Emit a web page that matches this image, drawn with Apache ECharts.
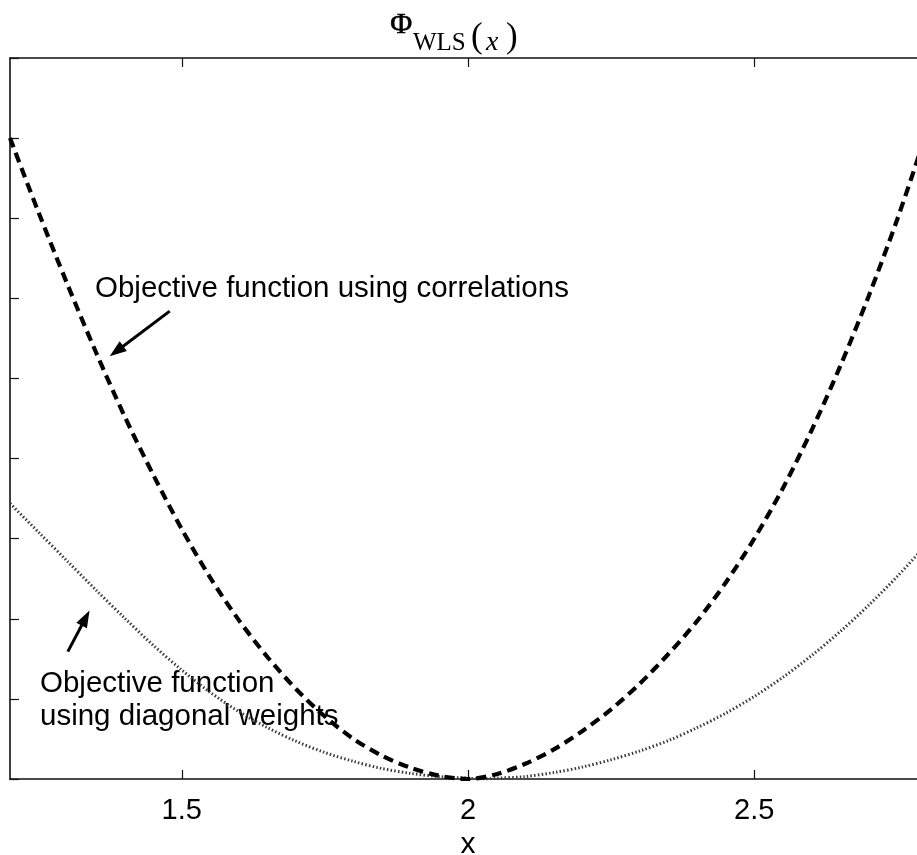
<!DOCTYPE html>
<html>
<head>
<meta charset="utf-8">
<title>Phi WLS objective functions</title>
<script src="https://cdn.jsdelivr.net/npm/echarts@6/dist/echarts.min.js"></script>
<style>
  html, body { margin: 0; padding: 0; background: #fff; }
  #chart { width: 917px; height: 855px; }
</style>
</head>
<body>
<div id="chart"></div>
<script>
// Objective function built with the full correlation weighting (dashed curve)
const corrX = [1.20, 1.25, 1.30, 1.35, 1.40, 1.45, 1.50, 1.55, 1.60, 1.65, 1.70, 1.75, 1.80, 1.85, 1.90, 1.95,
               2.00, 2.05, 2.10, 2.15, 2.20, 2.25, 2.30, 2.35, 2.40, 2.45, 2.50, 2.55, 2.60, 2.65, 2.70,
               2.75, 2.80];
const corrY = [8.00, 7.07, 6.18, 5.33, 4.53, 3.80, 3.12, 2.51, 1.98, 1.52, 1.12, 0.78, 0.50, 0.29, 0.14, 0.04,
               0.00, 0.06, 0.19, 0.37, 0.60, 0.87, 1.19, 1.56, 1.97, 2.45, 3.00, 3.63, 4.35, 5.15, 6.03,
               6.99, 8.05];

// Objective function built with diagonal weights only (dotted curve)
const diagX = [1.20, 1.25, 1.30, 1.35, 1.40, 1.45, 1.50, 1.55, 1.60, 1.65, 1.70, 1.75, 1.80, 1.85, 1.90, 1.95,
               2.00, 2.03, 2.05, 2.10, 2.15, 2.20, 2.25, 2.30, 2.35, 2.40, 2.45, 2.50, 2.55, 2.60, 2.65,
               2.70, 2.75, 2.80];
const diagY = [3.44, 3.08, 2.72, 2.36, 2.01, 1.67, 1.36, 1.08, 0.84, 0.64, 0.47, 0.33, 0.22, 0.13, 0.07, 0.03,
               0.01, 0.00, 0.01, 0.03, 0.08, 0.15, 0.24, 0.35, 0.48, 0.64, 0.82, 1.03, 1.27, 1.54, 1.84,
               2.17, 2.53, 2.92];

// Labelled x ticks and the unlabelled y tick range
const xTicks = [1.5, 2, 2.5];
const xRange = [1.2, 2.8];
const yRange = [0, 9];

// Annotation texts and the arrows pointing at each curve (data coordinates)
const corrNote = 'Objective function using correlations';
const diagNote = 'Objective function\nusing diagonal weights';
const corrArrow = [[1.479, 5.84], [1.386, 5.34]];
const diagArrow = [[1.301, 1.59], [1.332, 2.01]];

const pairs = (xs, ys) => xs.map((x, i) => [x, ys[i]]);

const sansFont = '"Liberation Sans", Arial, Helvetica, sans-serif';
const serifFont = '"Liberation Serif", "DejaVu Serif", serif';
const frameColor = '#111';

function boxAxis(extra) {
  return Object.assign({
    axisLine: { show: true, onZero: false, lineStyle: { color: frameColor, width: 1.6 } },
    axisTick: { show: true, inside: true, length: 9, lineStyle: { color: frameColor, width: 1.2 } },
    splitLine: { show: false },
    axisLabel: { show: false }
  }, extra);
}

const chart = echarts.init(document.getElementById('chart'), null, { renderer: 'canvas' });

const arrowLine = (seg) => [{ coord: seg[0] }, { coord: seg[1] }];

chart.setOption({
  animation: false,
  backgroundColor: '#fff',
  grid: { left: 10, top: 58, width: 916, height: 721, outerBoundsMode: 'none' },
  xAxis: [
    boxAxis({
      type: 'value', position: 'bottom', min: xRange[0], max: xRange[1],
      axisTick: { show: true, inside: true, length: 9, customValues: xTicks,
                  lineStyle: { color: frameColor, width: 1.2 } },
      axisLabel: { show: true, customValues: xTicks, margin: 17, color: '#000',
                   fontFamily: sansFont, fontSize: 29,
                   formatter: (v) => String(v) },
      name: 'x', nameLocation: 'middle', nameGap: 48,
      nameTextStyle: { color: '#000', fontFamily: sansFont, fontSize: 30 }
    }),
    boxAxis({
      type: 'value', position: 'top', min: xRange[0], max: xRange[1],
      axisTick: { show: true, inside: true, length: 9, customValues: xTicks,
                  lineStyle: { color: frameColor, width: 1.2 } }
    })
  ],
  yAxis: [
    boxAxis({ type: 'value', position: 'left', min: yRange[0], max: yRange[1], interval: 1 }),
    boxAxis({ type: 'value', position: 'right', min: yRange[0], max: yRange[1], interval: 1 })
  ],
  series: [
    {
      name: 'diagonal weights', type: 'line', data: pairs(diagX, diagY),
      smooth: 0.3, showSymbol: false, silent: true,
      lineStyle: { color: '#3c3c3c', width: 3, type: [1.5, 2.2] }
    },
    {
      name: 'correlations', type: 'line', data: pairs(corrX, corrY),
      smooth: 0.3, showSymbol: false, silent: true,
      lineStyle: { color: '#000', width: 4.2, type: [10, 6] },
      markLine: {
        silent: true, animation: false,
        symbol: ['none', 'triangle'], symbolSize: [12, 17],
        label: { show: false },
        lineStyle: { color: '#000', width: 3, type: 'solid' },
        data: [arrowLine(corrArrow), arrowLine(diagArrow)]
      }
    }
  ],
  graphic: [
    { type: 'text', left: 95, top: 274, style: { text: corrNote, font: '29.5px ' + sansFont, fill: '#000' } },
    { type: 'text', left: 40, top: 667, style: { text: diagNote, font: '29.5px ' + sansFont, fill: '#000', lineHeight: 33 } },
    // Title: Φ with the subscript WLS(x)
    { type: 'text', left: 390, top: 10, style: { text: 'Φ', font: '30px ' + serifFont, fill: '#000', stroke: '#000', lineWidth: 0.6 } },
    { type: 'text', left: 413, top: 31, style: { text: 'WLS', font: '25px ' + serifFont, fill: '#000' } },
    { type: 'text', left: 471, top: 20, style: { text: '(', font: '35px ' + serifFont, fill: '#000' } },
    { type: 'text', left: 486, top: 29, style: { text: 'x', font: 'italic 28px ' + serifFont, fill: '#000' } },
    { type: 'text', left: 506, top: 20, style: { text: ')', font: '35px ' + serifFont, fill: '#000' } }
  ]
});
</script>
</body>
</html>
